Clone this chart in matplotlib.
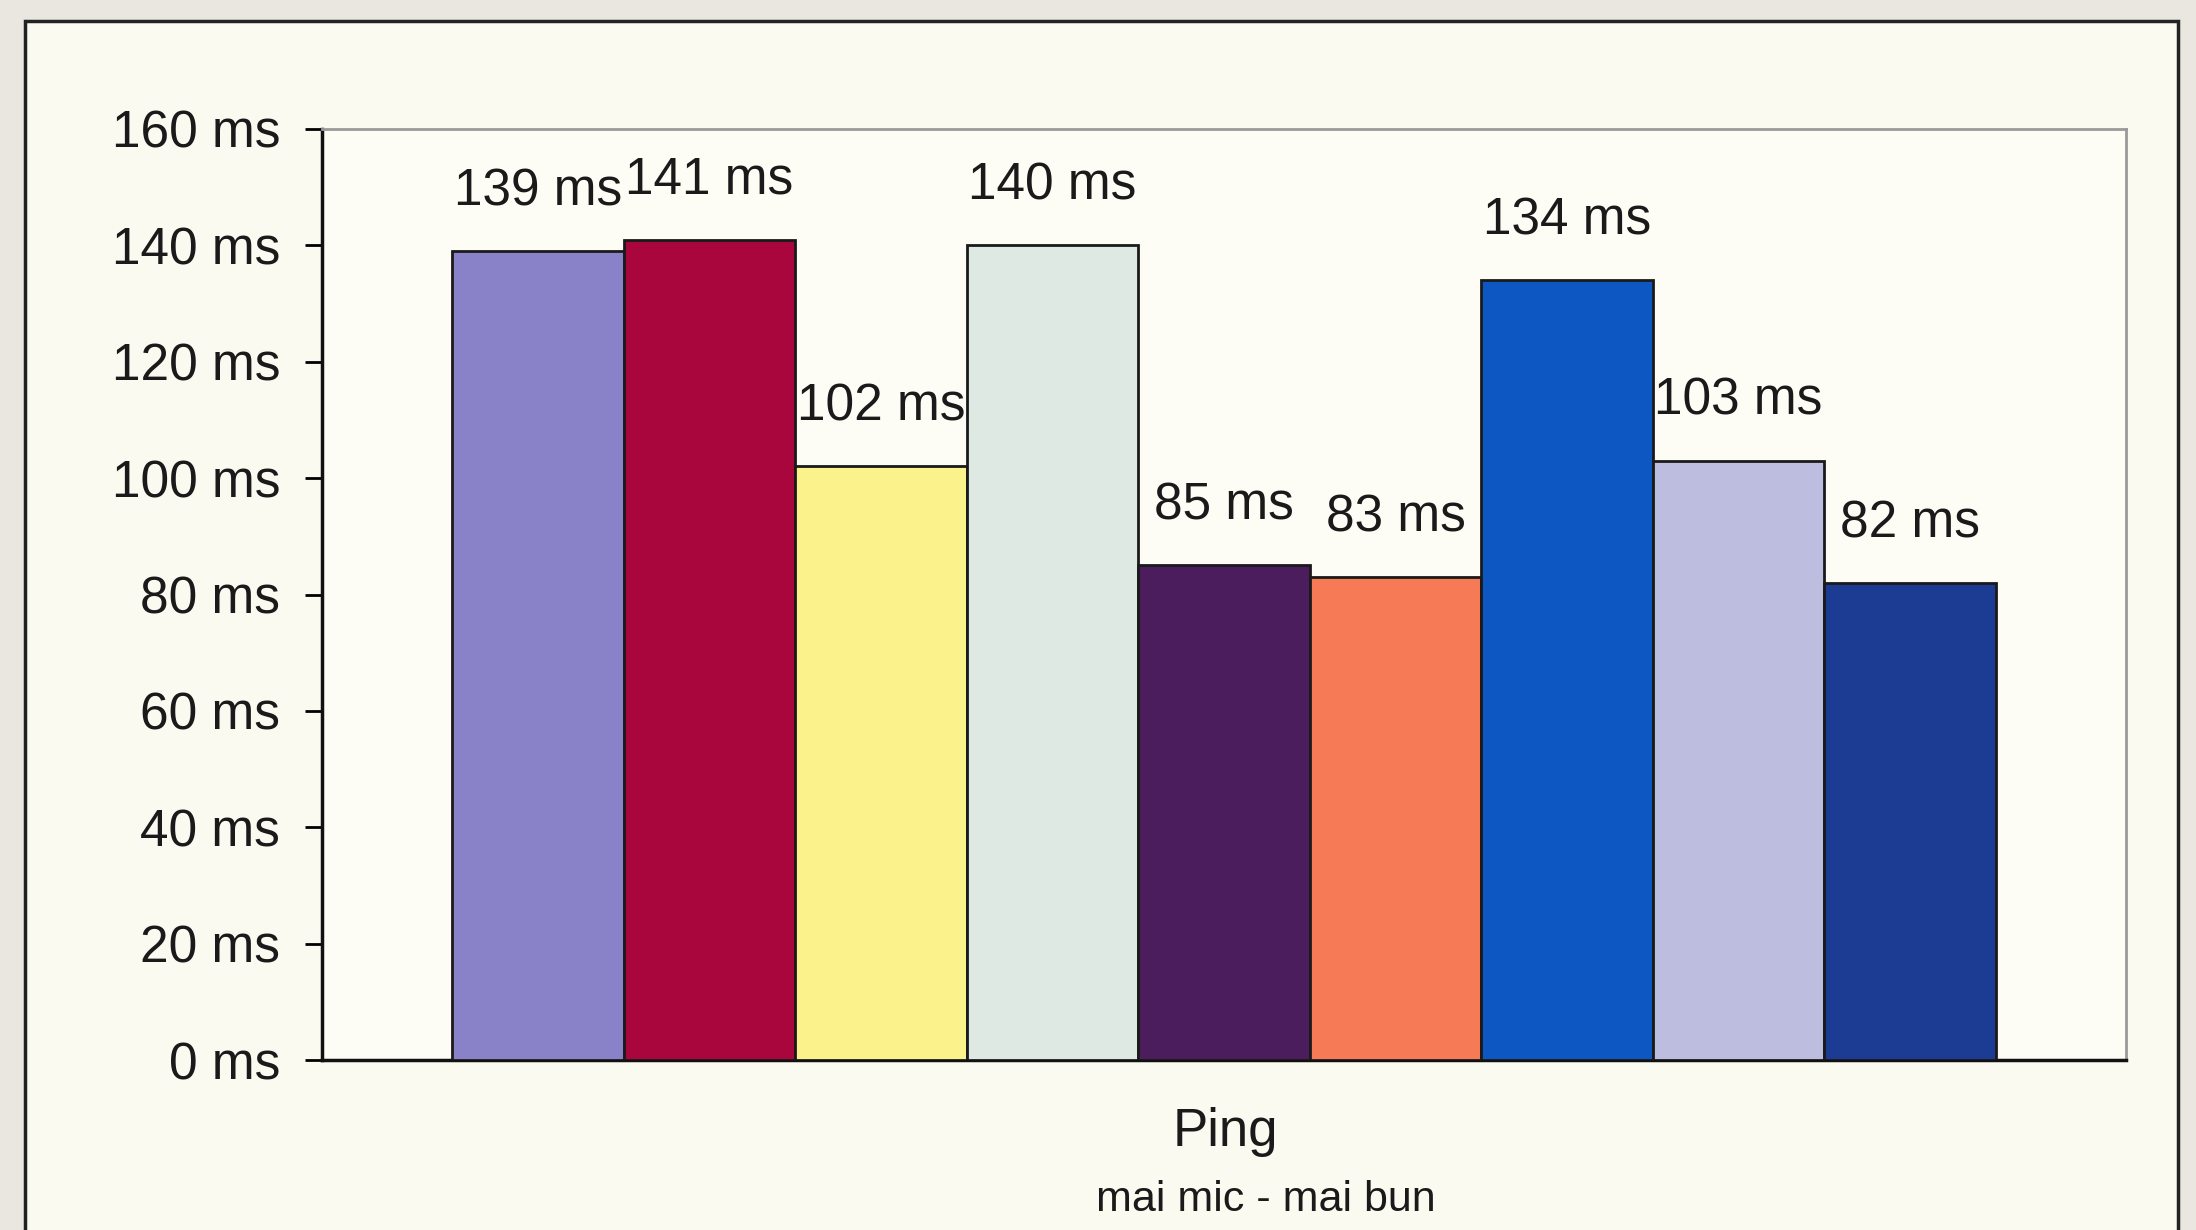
import matplotlib
matplotlib.use("Agg")
import matplotlib.pyplot as plt
from matplotlib.patches import Rectangle

values = [139, 141, 102, 140, 85, 83, 134, 103, 82]
labels = [f"{v} ms" for v in values]
colors = ["#8a82c8", "#a8063c", "#fbf28c", "#dfe9e4", "#4b1d5c",
          "#f77a56", "#0c57c2", "#bdbde0", "#1b3c92"]
yticks = [0, 20, 40, 60, 80, 100, 120, 140, 160]
ytick_labels = [f"{t} ms" for t in yticks]
xlabel = "Ping"
subtitle = "mai mic - mai bun"

plt.rcParams['font.family'] = ['Liberation Sans', 'DejaVu Sans']

fig = plt.figure(figsize=(21.96, 12.30), dpi=100)
fig.patch.set_facecolor("#e9e7df")

# outer frame
frame = Rectangle((25 / 2196, -0.01), (2178 - 25) / 2196, 1 - 21 / 1230 + 0.01,
                  transform=fig.transFigure, facecolor="#fbfaf1",
                  edgecolor="#222222", linewidth=2.5, zorder=-5)
fig.patches.append(frame)

ax = fig.add_axes([322 / 2196, 170 / 1230, (2126 - 322) / 2196, (1101 - 170) / 1230])
ax.set_zorder(2)
ax.set_facecolor("#fdfcf5")

x = list(range(len(values)))
ax.bar(x, values, width=1.0, color=colors, edgecolor="#1a1a1a", linewidth=2, zorder=3)
for xi, v, lab in zip(x, values, labels):
    ax.annotate(lab, (xi, v), xytext=(0, 25), textcoords="offset points",
                ha="center", va="bottom", fontsize=37, color="#1a1a1a")

ax.set_xlim(-1.26, 9.26)
ax.set_ylim(0, 160)
ax.set_yticks(yticks)
ax.set_yticklabels(ytick_labels, fontsize=37, color="#1a1a1a")
ax.set_xticks([])
ax.tick_params(axis="y", direction="out", length=12, width=2, pad=18)

for s in ["left", "bottom"]:
    ax.spines[s].set_color("#111111")
    ax.spines[s].set_linewidth(2.5)
for s in ["top", "right"]:
    ax.spines[s].set_color("#9a9a9a")
    ax.spines[s].set_linewidth(2)

fig.text(1225 / 2196, 1 - 1132 / 1230, xlabel, ha="center", va="center",
         fontsize=38, color="#1a1a1a")
fig.text(1266 / 2196, 1 - 1200 / 1230, subtitle, ha="center", va="center",
         fontsize=31, color="#1a1a1a")

fig.savefig("out.png", dpi=100, facecolor=fig.get_facecolor())
